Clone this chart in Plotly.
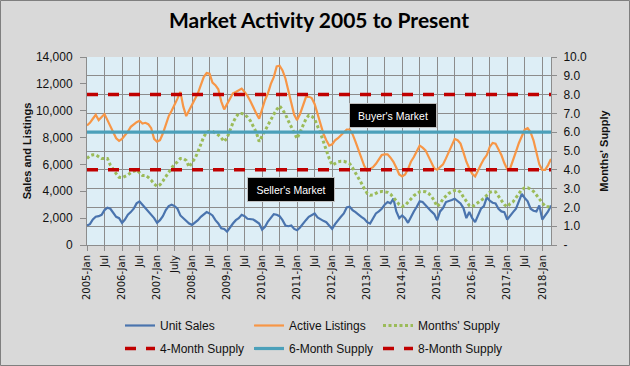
import plotly.graph_objects as go

# ---------------- data ----------------
month_names = ["Jan", "Feb", "Mar", "Apr", "May", "Jun",
               "Jul", "Aug", "Sep", "Oct", "Nov", "Dec"]
months = [f"{y}-{m}" for y in range(2005, 2019) for m in month_names][:160]

unit_sales = [
    1450, 1550, 1900, 2100, 2150, 2250, 2600, 2780, 2700, 2350, 2100, 2000,
    1650, 1900, 2250, 2450, 2700, 3100, 3250, 3000, 2750, 2450, 2250, 2000,
    1650, 1850, 2150, 2600, 2900, 3000, 2900, 2700, 2200, 2000, 1750, 1600,
    1500, 1650, 1850, 2100, 2300, 2450, 2350, 2200, 1850, 1600, 1250, 1200,
    1000, 1350, 1600, 1850, 2000, 2250, 2150, 1950, 1950, 1900, 1750, 1600,
    1150, 1350, 1750, 2050, 2300, 2250, 2150, 1850, 1450, 1400, 1450, 1200,
    1100, 1300, 1600, 1850, 2100, 2200, 2350, 2050, 1900, 1800, 1700, 1450,
    1200, 1550, 1850, 2100, 2350, 2800, 2850, 2600, 2450, 2250, 2100, 1950,
    1700, 1600, 2000, 2350, 2500, 2700, 3000, 3200, 3100, 3450, 2500, 2000,
    2200, 2000, 1650, 2100, 2500, 2850, 3250, 3200, 2950, 2700, 2500, 2300,
    1850, 2500, 2750, 3200, 3250, 3350, 3450, 3300, 3100, 2750, 2000, 2450,
    2000, 1700, 2250, 2700, 2900, 3550, 3300, 3150, 3100, 2700, 2500, 2450,
    1900, 2200, 2450, 2700, 3200, 3800, 3500, 3250, 2700, 2550, 2500, 2950,
    1900, 2200, 2500, 2950,
]

active_listings = [
    8900, 9100, 9400, 9700, 9300, 9500, 9750, 9300, 8800, 8400, 7950, 7750,
    7900, 8150, 8450, 8800, 9000, 9150, 9250, 9050, 9100, 9000, 8700, 7900,
    7700, 7800, 8300, 9000, 9600, 10000, 10400, 10900, 11400, 10300, 9600, 10000,
    10400, 10800, 11300, 11900, 12500, 12800, 12750, 12100, 11900, 11600, 10700, 10100,
    10500, 11000, 11300, 11400, 11550, 11650, 11400, 11100, 10700, 10200, 9800, 9400,
    10100, 10800, 11300, 12000, 12500, 13300, 13350, 13000, 12400, 11600, 10600, 9700,
    9300, 9750, 10400, 11000, 11050, 10950, 10500, 9700, 8900, 8300, 7800, 7400,
    7500, 7800, 7950, 8150, 8400, 8600, 8600, 8250, 7700, 7100, 6600, 5900,
    5550, 5650, 5800, 6050, 6400, 6700, 6750, 6750, 6500, 6200, 5750, 5250,
    5100, 5250, 5650, 6200, 6550, 7000, 7400, 7250, 7050, 6600, 6100, 5700,
    5600, 5800, 6000, 6450, 6950, 7500, 7900, 7800, 7550, 6900, 6200, 5700,
    5300, 5100, 5600, 6000, 6400, 6700, 7300, 7600, 7550, 7150, 6700, 6100,
    5650, 5700, 6400, 6950, 7600, 8100, 8600, 8700, 8400, 7800, 7000, 6000,
    5600, 5600, 5950, 6400,
]

months_supply = [
    4.6, 4.75, 4.8, 4.8, 4.7, 4.6, 4.6, 4.6, 4.25, 4.0, 3.8, 3.6,
    3.58, 3.65, 3.72, 3.85, 3.92, 3.98, 3.85, 3.7, 3.7, 3.6, 3.45, 3.25,
    3.12, 3.2, 3.4, 3.65, 3.9, 4.1, 4.3, 4.42, 4.6, 4.6, 4.5, 4.15,
    4.4, 4.6, 4.95, 5.4, 5.75, 6.0, 6.05, 6.05, 5.95, 5.85, 5.7, 5.5,
    5.7, 6.15, 6.5, 6.8, 7.0, 7.0, 6.95, 6.8, 6.6, 6.3, 6.0, 5.5,
    5.8, 6.1, 6.4, 6.7, 6.95, 7.2, 7.4, 7.2, 6.95, 6.6, 6.3, 5.95,
    5.66, 6.0, 6.35, 6.7, 6.9, 6.85, 6.7, 6.35, 5.95, 5.5, 5.0, 4.6,
    4.25, 4.35, 4.42, 4.45, 4.45, 4.4, 4.33, 4.1, 3.85, 3.6, 3.3, 3.0,
    2.75, 2.65, 2.66, 2.75, 2.83, 2.85, 2.83, 2.8, 2.7, 2.55, 2.35, 2.15,
    2.05, 2.1, 2.25, 2.45, 2.62, 2.75, 2.83, 2.85, 2.83, 2.75, 2.6, 2.35,
    2.05, 2.2, 2.45, 2.6, 2.75, 2.83, 2.9, 2.92, 2.8, 2.55, 2.3, 2.1,
    2.03, 2.15, 2.25, 2.35, 2.48, 2.65, 2.8, 2.85, 2.83, 2.6, 2.4, 2.15,
    2.03, 2.2, 2.3, 2.5, 2.75, 2.95, 3.05, 3.05, 2.97, 2.85, 2.66, 2.45,
    2.2, 2.05, 2.03, 2.03,
]

supply_levels = [4, 6, 8]
supply_level_names = ["4-Month Supply", "6-Month Supply", "8-Month Supply"]

x_tick_positions = months[::6]
x_tick_labels = [
    "2005-Jan", "Jul", "2006-Jan", "Jul", "2007-Jan", "July", "2008-Jan", "Jul",
    "2009-Jan", "Jul", "2010-Jan", "Jul", "2011-Jan", "Jul", "2012-Jan", "Jul",
    "2013-Jan", "Jul", "2014-Jan", "Jul", "2015-Jan", "Jul", "2016-Jan", "Jul",
    "2017-Jan", "Jul", "2018-Jan",
]
left_ticks = [0, 2000, 4000, 6000, 8000, 10000, 12000, 14000]
right_ticks = [0, 1, 2, 3, 4, 5, 6, 7, 8, 9, 10]
right_tick_labels = ["-", "1.0", "2.0", "3.0", "4.0", "5.0", "6.0", "7.0", "8.0", "9.0", "10.0"]

# ---------------- styles ----------------
BLUE = "#4A74AE"
ORANGE = "#F79646"
GREEN = "#9BBB59"
RED = "#C00000"
TEAL = "#4BA0BA"
GRID = "#8C8C8C"
TXT = "#111111"

fig = go.Figure()

fig.add_trace(go.Scatter(x=months, y=unit_sales, name="Unit Sales", mode="lines",
                         line=dict(color=BLUE, width=2.2), legend="legend"))
fig.add_trace(go.Scatter(x=months, y=active_listings, name="Active Listings", mode="lines",
                         line=dict(color=ORANGE, width=2.2), legend="legend"))
fig.add_trace(go.Scatter(x=months, y=months_supply, name="Months' Supply", mode="lines",
                         line=dict(color=GREEN, width=3, dash="3px,2.5px"),
                         yaxis="y2", legend="legend"))

level_styles = [dict(color=RED, width=3.5, dash="11px,10px"),
                dict(color=TEAL, width=3.2),
                dict(color=RED, width=3.5, dash="11px,10px")]
for lvl, nm, st in zip(supply_levels, supply_level_names, level_styles):
    fig.add_trace(go.Scatter(x=months, y=[lvl] * len(months), name=nm, mode="lines",
                             line=st, yaxis="y2", legend="legend2"))

W, H = 630, 366
ML, MR, MT, MB = 87, 79, 57, 121
PW, PH = W - ML - MR, H - MT - MB

legend_font = dict(family="Liberation Sans", size=12, color=TXT)

fig.update_layout(
    width=W, height=H,
    margin=dict(l=ML, r=MR, t=MT, b=MB, pad=0, autoexpand=False),
    paper_bgcolor="#D9D9D9",
    plot_bgcolor="#DDEEF6",
    showlegend=True,
    title=dict(text="Market Activity 2005 to Present", x=0.5, xref="paper", xanchor="center",
               y=1 - 21 / H, yanchor="middle",
               font=dict(family="Lato", size=21, color="#000000", weight="bold")),
    xaxis=dict(type="category", range=[0, len(months) - 1],
               tickmode="array", tickvals=x_tick_positions, ticktext=x_tick_labels,
               tickangle=-90, tickfont=dict(family="DejaVu Sans", size=10, color=TXT),
               showgrid=True, gridcolor=GRID, gridwidth=1,
               showline=True, linecolor=GRID, linewidth=1,
               ticks="outside", ticklen=5, tickcolor=GRID),
    yaxis=dict(range=[0, 14000], tickvals=left_ticks, tickformat=",d",
               tickfont=dict(family="Liberation Sans", size=12, color=TXT),
               showgrid=False, zeroline=False,
               showline=True, linecolor=GRID, linewidth=1,
               ticks="outside", ticklen=6, tickcolor=GRID, ticklabelstandoff=5,
               title=dict(text="Sales and Listings", standoff=2,
                          font=dict(family="Liberation Sans", size=11, color=TXT, weight="bold"))),
    yaxis2=dict(range=[0, 10], overlaying="y", side="right",
                tickvals=right_ticks, ticktext=right_tick_labels,
                tickfont=dict(family="Liberation Sans", size=12, color=TXT),
                showgrid=True, gridcolor=GRID, gridwidth=1, zeroline=False,
                showline=True, linecolor=GRID, linewidth=1,
                ticks="outside", ticklen=5, tickcolor=GRID, ticklabelstandoff=4,
                title=dict(text="Months' Supply", standoff=14,
                           font=dict(family="Liberation Sans", size=11, color=TXT, weight="bold"))),
    legend=dict(orientation="h", xref="paper", yref="paper",
                x=(120 - ML) / PW, xanchor="left", y=-(311 - (H - MB)) / PH, yanchor="top",
                entrywidth=84, font=legend_font, bgcolor="rgba(0,0,0,0)", traceorder="normal"),
    legend2=dict(orientation="h", xref="paper", yref="paper",
                 x=(120 - ML) / PW, xanchor="left", y=-(334 - (H - MB)) / PH, yanchor="top",
                 entrywidth=84, font=legend_font, bgcolor="rgba(0,0,0,0)", traceorder="normal"),
    annotations=[
        dict(text="Buyer's Market", xref="paper", yref="paper",
             x=(392.5 - ML) / PW, y=((H - MB) - 115) / PH, xanchor="center", yanchor="middle",
             showarrow=False, bgcolor="#000000", bordercolor="#BFBFBF", borderwidth=1,
             borderpad=2, width=82, height=19,
             font=dict(family="Liberation Sans", size=10.5, color="#FFFFFF")),
        dict(text="Seller's Market", xref="paper", yref="paper",
             x=(290.8 - ML) / PW, y=((H - MB) - 189.7) / PH, xanchor="center", yanchor="middle",
             showarrow=False, bgcolor="#000000", bordercolor="#BFBFBF", borderwidth=1,
             borderpad=2, width=82, height=19,
             font=dict(family="Liberation Sans", size=10.5, color="#FFFFFF")),
    ],
    shapes=[
        dict(type="rect", xref="paper", yref="paper", layer="above",
             x0=-(ML - 0.5) / PW, x1=1 + (MR - 0.5) / PW,
             y0=-(MB - 0.5) / PH, y1=1 + (MT - 0.5) / PH,
             line=dict(color="#7F7F7F", width=1)),
    ],
)

fig.write_html("out.html", config={"displayModeBar": False},
               post_script="document.body.style.margin='0';document.body.style.overflow='hidden';")
